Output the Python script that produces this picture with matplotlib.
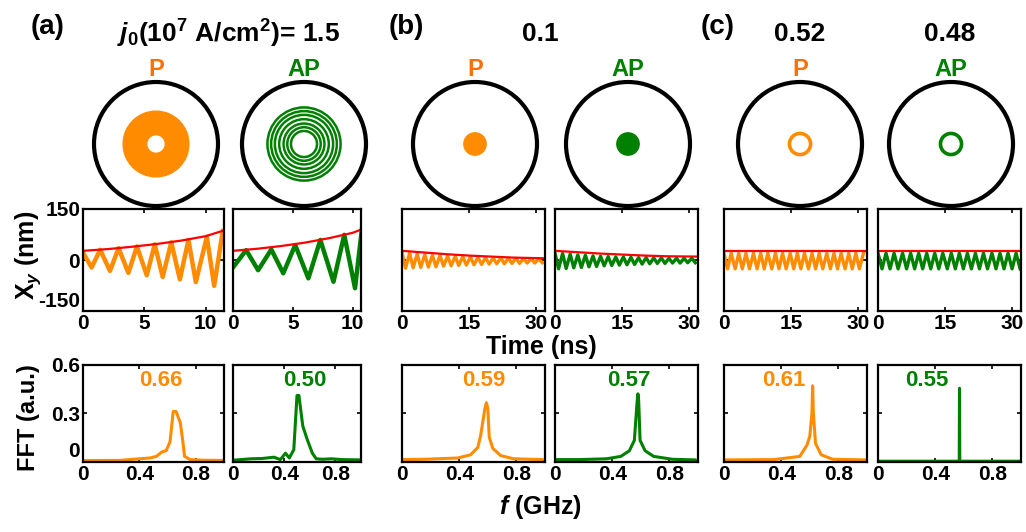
import numpy as np
import matplotlib
matplotlib.use("Agg")
import matplotlib.pyplot as plt
from matplotlib.patches import Circle, Wedge

plt.rcParams['font.family'] = ['Liberation Sans', 'DejaVu Sans']
plt.rcParams['font.weight'] = 'bold'
plt.rcParams['mathtext.fontset'] = 'custom'
plt.rcParams['mathtext.rm'] = 'Liberation Sans:bold'
plt.rcParams['mathtext.it'] = 'Liberation Sans:italic:bold'
plt.rcParams['mathtext.bf'] = 'Liberation Sans:bold'

ORANGE = '#ff8c00'
GREEN = '#008000'

# ---- data ----
panel_names = ['(a)', '(b)', '(c)']
j0_titles = [r'$j_0$(10$^7$ A/cm$^2$)= 1.5', '0.1', '0.52', '0.48']
state_labels = ['P', 'AP', 'P', 'AP', 'P', 'AP']
peak_freqs = ['0.66', '0.50', '0.59', '0.57', '0.61', '0.55']

# trajectories inside the disk (radius 1)
a_p_annulus = (0.15, 0.53)              # inner, outer
a_ap_rings = [0.59, 0.53, 0.47, 0.40, 0.33, 0.27, 0.21]
b_dot_r = 0.18
c_ring_r = 0.17

# time traces X_y (nm): peaks / troughs
a_p_t = [0, 0.7, 1.4, 2.2, 2.9, 3.7, 4.4, 5.2, 5.85, 6.5, 7.2, 7.9, 8.6, 9.2, 10.1, 10.7, 11.4]
a_p_x = [22, -22, 30, -32, 35, -38, 40, -45, 46, -50, 52, -57, 59, -65, 68, -76, 85]
a_ap_t = [0, 1.1, 2.1, 3.2, 4.2, 5.2, 6.3, 7.3, 8.4, 9.3, 10.2, 10.8]
a_ap_x = [-22, 29, -30, 31, -39, 44, -54, 59, -64, 74, -83, 98]
a_env_t = [0, 2, 4, 6, 8, 10, 11.5]
a_p_env = [27, 32, 39, 47, 57, 70, 87]
a_ap_env = [27, 33, 41, 51, 64, 80, 100]

b_t = [0.0, 0.8, 1.7, 2.5, 3.4, 4.2, 5.1, 5.9, 6.8, 7.6, 8.5, 9.3, 10.2, 11.0, 11.9, 12.7,
       13.6, 14.4, 15.3, 16.1, 17.0, 17.8, 18.7, 19.5, 20.4, 21.2, 22.1, 22.9, 23.8, 24.6,
       25.5, 26.3, 27.2, 28.0, 28.9, 29.7, 30.6, 31.4]
b_p_x = [22, -24, 20, -23, 18, -22, 16, -21, 14, -20, 13, -18, 12, -17, 11, -16, 10, -15, 9,
         -14, 8, -13, 7, -12, 6, -11, 6, -11, 5, -10, 5, -10, 4, -9, 4, -9, 3, -8]
b_ap_x = [20, -26, 19, -25, 17, -23, 15, -22, 14, -20, 12, -19, 11, -17, 10, -16, 9, -15, 9,
          -14, 8, -13, 7, -12, 7, -11, 6, -10, 6, -10, 5, -9, 5, -9, 5, -8, 5, -8]
b_env_t = [0, 5, 10, 15, 20, 25, 32]
b_p_env = [27, 22, 17, 13, 10, 7, 5]
b_ap_env = [27, 23, 19, 16, 13, 11, 10]

c_p_t = [0.0, 0.8, 1.6, 2.5, 3.3, 4.1, 4.9, 5.7, 6.6, 7.4, 8.2, 9.0, 9.8, 10.7, 11.5, 12.3,
         13.1, 13.9, 14.8, 15.6, 16.4, 17.2, 18.0, 18.9, 19.7, 20.5, 21.3, 22.1, 23.0, 23.8,
         24.6, 25.4, 26.2, 27.1, 27.9, 28.7, 29.5, 30.3, 31.2]
c_p_x = [20, -26, 20, -26, 20, -26, 20, -26, 20, -26, 20, -26, 20, -26, 20, -26, 20, -26, 20,
         -26, 20, -26, 20, -26, 20, -26, 20, -26, 20, -26, 20, -26, 20, -26, 20, -26, 20, -26, 20]
c_ap_t = [0.0, 0.9, 1.8, 2.7, 3.6, 4.5, 5.5, 6.4, 7.3, 8.2, 9.1, 10.0, 10.9, 11.8, 12.7, 13.6,
          14.5, 15.5, 16.4, 17.3, 18.2, 19.1, 20.0, 20.9, 21.8, 22.7, 23.6, 24.5, 25.5, 26.4,
          27.3, 28.2, 29.1, 30.0, 30.9, 31.8]
c_ap_x = [20, -26, 20, -26, 20, -26, 20, -26, 20, -26, 20, -26, 20, -26, 20, -26, 20, -26,
          20, -26, 20, -26, 20, -26, 20, -26, 20, -26, 20, -26, 20, -26, 20, -26, 20, -26]
c_env_t = [0, 32]
c_env = [26, 26]

# FFT spectra (a.u.)
a_p_f = [0, 0.26, 0.40, 0.475, 0.52, 0.56, 0.59, 0.617, 0.64, 0.66, 0.69, 0.71, 0.72, 0.76, 0.85, 1.0]
a_p_a = [0.004, 0.005, 0.015, 0.02, 0.03, 0.058, 0.066, 0.12, 0.31, 0.31, 0.24, 0.11, 0.03, 0.01, 0.006, 0.005]
a_ap_f = [0, 0.14, 0.23, 0.32, 0.37, 0.41, 0.44, 0.475, 0.50, 0.515, 0.545, 0.58, 0.62, 0.65, 0.70, 0.77, 0.85, 1.0]
a_ap_a = [0.006, 0.015, 0.017, 0.025, 0.01, 0.05, 0.02, 0.072, 0.41, 0.41, 0.22, 0.135, 0.05, 0.015, 0.012, 0.015, 0.01, 0.008]
b_p_f = [0, 0.16, 0.39, 0.48, 0.53, 0.55, 0.58, 0.59, 0.60, 0.61, 0.635, 0.69, 0.78, 0.98]
b_p_a = [0.01, 0.012, 0.02, 0.04, 0.086, 0.16, 0.33, 0.365, 0.33, 0.15, 0.08, 0.035, 0.015, 0.01]
b_ap_f = [0, 0.17, 0.36, 0.46, 0.52, 0.555, 0.575, 0.58, 0.585, 0.595, 0.63, 0.69, 0.82, 0.98]
b_ap_a = [0.01, 0.01, 0.015, 0.03, 0.065, 0.13, 0.38, 0.42, 0.38, 0.13, 0.065, 0.03, 0.012, 0.008]
c_p_f = [0, 0.35, 0.53, 0.58, 0.60, 0.615, 0.62, 0.625, 0.64, 0.68, 0.76, 0.99]
c_p_a = [0.008, 0.01, 0.03, 0.1, 0.155, 0.3, 0.47, 0.3, 0.11, 0.04, 0.012, 0.008]
c_ap_f = [0, 0.568, 0.57, 0.572, 1.0]
c_ap_a = [0, 0, 0.455, 0, 0]

# ---- layout (pixels of the 1026x532 picture) ----
W, H = 1026, 532
cols_x = [(83, 224), (233, 361), (402, 545), (555, 698), (724, 867), (878, 1021)]
disk_cx = [156, 304, 475, 628, 800, 951]


def rect(x0, x1, y0, y1):
    return [x0 / W, 1 - y1 / H, (x1 - x0) / W, (y1 - y0) / H]


fig = plt.figure(figsize=(W / 100, H / 100), dpi=100)


def style(ax):
    for s in ax.spines.values():
        s.set_linewidth(1.6)
    ax.tick_params(direction='in', length=3, width=1.2, top=True, right=True,
                   labelsize=15, pad=2)


# disks
colors = [ORANGE, GREEN] * 3
for i, cx in enumerate(disk_cx):
    ax = fig.add_axes(rect(cx - 66, cx + 66, 78, 210))
    ax.set_xlim(-66 / 62, 66 / 62)
    ax.set_ylim(-66 / 62, 66 / 62)
    ax.set_aspect('equal')
    ax.axis('off')
    ax.add_patch(Circle((0, 0), 1, fill=False, lw=3, ec='black'))
    c = colors[i]
    if i == 0:
        inner, outer = a_p_annulus
        ax.add_patch(Wedge((0, 0), outer, 0, 360, width=outer - inner, color=c))
    elif i == 1:
        for r in a_ap_rings:
            ax.add_patch(Circle((0, 0), r, fill=False, lw=1.8, ec=c))
    elif i in (2, 3):
        ax.add_patch(Circle((0, 0), b_dot_r, color=c))
    else:
        ax.add_patch(Circle((0, 0), c_ring_r, fill=False, lw=2.6, ec=c))
    fig.text(cx / W, 1 - 70 / H, state_labels[i], color='#ff7000' if c == ORANGE else c,
             ha='center', va='center', fontsize=17, fontweight='bold')

# time traces
traces = [(a_p_t, a_p_x, a_env_t, a_p_env), (a_ap_t, a_ap_x, a_env_t, a_ap_env),
          (b_t, b_p_x, b_env_t, b_p_env), (b_t, b_ap_x, b_env_t, b_ap_env),
          (c_p_t, c_p_x, c_env_t, c_env), (c_ap_t, c_ap_x, c_env_t, c_env)]
for i, (t, x, te, xe) in enumerate(traces):
    x0, x1 = cols_x[i]
    ax = fig.add_axes(rect(x0, x1, 209, 311))
    ax.plot(t, x, color=colors[i], lw=3.2 if i < 2 else 2.4, solid_joinstyle='round')
    ax.plot(te, xe, color='red', lw=1.6)
    ax.set_ylim(-150, 150)
    if i < 2:
        ax.set_xlim(0, 11.5 if i == 0 else 10.7)
        ax.set_xticks([0, 5, 10])
    else:
        ax.set_xlim(0, 32)
        ax.set_xticks([0, 15, 30])
    ax.set_yticks([-150, 0, 150])
    style(ax)
    if i == 0:
        ax.set_yticklabels(['-150', '0', '150'])
        ax.get_yticklabels()[0].set_va('bottom')
    else:
        ax.set_yticklabels([])

# FFT
spectra = [(a_p_f, a_p_a), (a_ap_f, a_ap_a), (b_p_f, b_p_a), (b_ap_f, b_ap_a),
           (c_p_f, c_p_a), (c_ap_f, c_ap_a)]
lab_x = [0.55, 0.56, 0.57, 0.52, 0.42, 0.34]
for i, (f, a) in enumerate(spectra):
    x0, x1 = cols_x[i]
    ax = fig.add_axes(rect(x0, x1, 365, 462))
    ax.plot(f, a, color=colors[i], lw=2.2)
    ax.set_xlim(0, 1.0)
    ax.set_ylim(-0.005, 0.6)
    ax.set_xticks([0, 0.4, 0.8])
    ax.set_xticklabels(['0', '0.4', '0.8'])
    ax.set_yticks([0, 0.3, 0.6])
    style(ax)
    if i == 0:
        ax.set_yticklabels(['0', '0.3', '0.6'])
        ax.get_yticklabels()[0].set_va('bottom')
    else:
        ax.set_yticklabels([])
    ax.text(lab_x[i], 0.84, peak_freqs[i], transform=ax.transAxes, color=colors[i],
            ha='center', va='center', fontsize=16, fontweight='bold')

# texts
fig.text(48 / W, 1 - 27 / H, panel_names[0], fontsize=20, fontweight='bold', ha='center', va='center')
fig.text(406 / W, 1 - 27 / H, panel_names[1], fontsize=20, fontweight='bold', ha='center', va='center')
fig.text(718 / W, 1 - 27 / H, panel_names[2], fontsize=20, fontweight='bold', ha='center', va='center')
for s, x in zip(j0_titles, [228, 540, 800, 950]):
    fig.text(x / W, 1 - 34 / H, s, fontsize=19, fontweight='bold', ha='center', va='center')

fig.text(28 / W, 1 - 255 / H, r'X$_y$ (nm)', rotation=90, fontsize=18, fontweight='bold',
         ha='center', va='center')
fig.text(28 / W, 1 - 418 / H, 'FFT (a.u.)', rotation=90, fontsize=17, fontweight='bold',
         ha='center', va='center')
fig.text(541 / W, 1 - 347 / H, 'Time (ns)', fontsize=18, fontweight='bold', ha='center', va='center')
fig.text(540 / W, 1 - 507 / H, r'$f$ (GHz)', fontsize=18, fontweight='bold', ha='center', va='center')

fig.savefig('out.png', dpi=100, facecolor='white')
